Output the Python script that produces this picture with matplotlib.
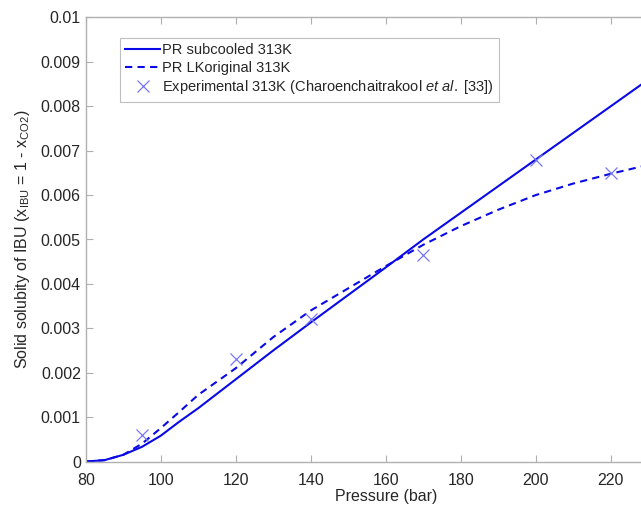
import matplotlib
matplotlib.use("Agg")
import matplotlib.pyplot as plt

plt.rcParams['font.family'] = ['Liberation Sans', 'DejaVu Sans']
plt.rcParams['mathtext.fontset'] = 'custom'
plt.rcParams['mathtext.rm'] = 'Liberation Sans'
plt.rcParams['mathtext.it'] = 'Liberation Sans:italic'

# model curves
p_model = [80, 85, 90, 95, 100, 105, 110, 120, 130, 140, 150, 160, 170, 180, 190, 200, 210, 220, 230, 240]
x_subcooled = [0, 0.00003, 0.00015, 0.00033, 0.00058, 0.0009, 0.0012, 0.00185, 0.0025, 0.00313,
               0.00375, 0.00437, 0.0050, 0.0056, 0.0062, 0.0068, 0.0074, 0.0080, 0.0086, 0.0092]
x_lkoriginal = [0, 0.00003, 0.00015, 0.0004, 0.00075, 0.00112, 0.0015, 0.0021, 0.0028, 0.0034,
                0.0039, 0.0044, 0.00488, 0.0053, 0.00567, 0.0060, 0.00626, 0.00648, 0.00668, 0.00685]

# experimental points
p_exp = [95, 120, 140, 170, 200, 220]
x_exp = [0.0006, 0.0023, 0.0032, 0.00466, 0.0068, 0.0065]

xticks = [80, 100, 120, 140, 160, 180, 200, 220]
yticks = [0, 0.001, 0.002, 0.003, 0.004, 0.005, 0.006, 0.007, 0.008, 0.009, 0.01]
ytick_labels = ['0', '0.001', '0.002', '0.003', '0.004', '0.005', '0.006', '0.007', '0.008', '0.009', '0.01']

fig = plt.figure(figsize=(6.41, 5.08), dpi=100)
# axes runs past the right edge like the cropped original
ax = fig.add_axes([85.7 / 641, 46.5 / 508, 600 / 641, 444 / 508])

blue = '#0a0ae6'
ax.plot(p_model, x_subcooled, color=blue, lw=1.5, label='PR subcooled 313K')
ax.plot(p_model, x_lkoriginal, color=blue, lw=1.5, ls=(0, (3.5, 2.5)), label='PR LKoriginal 313K')
ax.plot(p_exp, x_exp, ls='none', marker='x', ms=9, mew=0.9, color='#7878f5',
        label=r'Experimental 313K (Charoenchaitrakool $\mathit{et\ al.}$ [33])')

ax.set_xlim(80, 240)
ax.set_ylim(0, 0.01)
ax.set_xticks(xticks)
ax.set_yticks(yticks)
ax.set_yticklabels(ytick_labels)

for s in ax.spines.values():
    s.set_color('#b0b0b0')
    s.set_linewidth(1.0)
ax.tick_params(direction='in', length=5, width=0.8, color='#b0b0b0',
               labelcolor='#262626', labelsize=11.5, top=True, right=True)
ax.tick_params(axis='x', pad=8)

ax.set_xlabel('Pressure (bar)', fontsize=11.5, color='#262626', labelpad=1)
ax.set_ylabel(r'Solid solubity of IBU (x$_{\mathrm{IBU}}$ = 1 - x$_{\mathrm{CO2}}$)',
              fontsize=11.5, color='#262626', labelpad=6)

leg = ax.legend(loc='upper left', bbox_to_anchor=(120 / 641, 1 - 38 / 508),
                bbox_transform=fig.transFigure, fontsize=10.5, frameon=True,
                fancybox=False, handlelength=2.4, handletextpad=0.1,
                borderpad=0.35, labelspacing=0.25, borderaxespad=0)
leg.get_frame().set_edgecolor('#b0b0b0')
leg.get_frame().set_linewidth(0.8)
for t in leg.get_texts():
    t.set_color('#262626')

fig.savefig('out.png', dpi=100)
